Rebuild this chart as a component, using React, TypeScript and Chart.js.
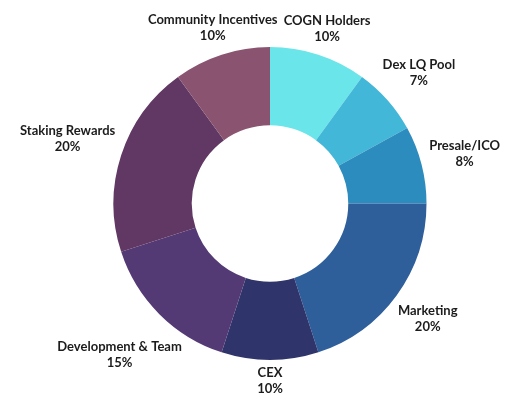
import React, { useEffect, useRef } from "react";
import { Chart, registerables } from "chart.js";

Chart.register(...registerables);

const categories = [
  "COGN Holders",
  "Dex LQ Pool",
  "Presale/ICO",
  "Marketing",
  "CEX",
  "Development & Team",
  "Staking Rewards",
  "Community Incentives",
];
const values = [10, 7, 8, 20, 10, 15, 20, 10];
const colors = [
  "#6AE5E9",
  "#43B7D8",
  "#2D8CBE",
  "#2E5F9B",
  "#2F346B",
  "#533A74",
  "#613764",
  "#8A5471",
];

const FONT = "bold 13px Lato";
const LINE_H = 16;
const CAP_H = 9.5;
const GAP = 7;

function boxDist(cx: number, cy: number, hw: number, hh: number) {
  const nx = Math.max(Math.abs(cx) - hw, 0);
  const ny = Math.max(Math.abs(cy) - hh, 0);
  return Math.sqrt(nx * nx + ny * ny);
}

const labelPlugin = {
  id: "outerLabels",
  afterDraw(chart: any) {
    const ctx = chart.ctx;
    const meta = chart.getDatasetMeta(0);
    const total = values.reduce((a, b) => a + b, 0);
    ctx.save();
    ctx.font = FONT;
    ctx.fillStyle = "#1c1c1c";
    ctx.textAlign = "center";
    ctx.textBaseline = "alphabetic";
    meta.data.forEach((arc: any, i: number) => {
      const { x, y, startAngle, endAngle, outerRadius } = arc.getProps(
        ["x", "y", "startAngle", "endAngle", "outerRadius"],
        true
      );
      const mid = (startAngle + endAngle) / 2;
      const vx = Math.cos(mid);
      const vy = Math.sin(mid);
      const lines = [categories[i], Math.round((values[i] / total) * 100) + "%"];
      const hw = Math.max(...lines.map((l) => ctx.measureText(l).width)) / 2;
      const hh = ((lines.length - 1) * LINE_H + CAP_H) / 2;
      const target = outerRadius + GAP;
      let lo = 0;
      let hi = outerRadius + 400;
      for (let k = 0; k < 60; k++) {
        const t = (lo + hi) / 2;
        if (boxDist(vx * t, vy * t, hw, hh) < target) lo = t;
        else hi = t;
      }
      const cx = x + vx * hi;
      const cy = y + vy * hi;
      const top = cy - hh;
      lines.forEach((l, k) => {
        ctx.fillText(l, cx, top + CAP_H + k * LINE_H);
      });
    });
    ctx.restore();
  },
};

export default function App() {
  const ref = useRef<HTMLCanvasElement>(null);
  useEffect(() => {
    if (!ref.current) return;
    const chart = new Chart(ref.current, {
      type: "doughnut",
      data: {
        labels: categories,
        datasets: [
          {
            data: values,
            backgroundColor: colors,
            borderWidth: 0,
          },
        ],
      },
      options: {
        responsive: false,
        animation: false,
        cutout: "50%",
        layout: { padding: { left: 113, right: 91, top: 47, bottom: 47 } },
        plugins: {
          legend: { display: false },
          tooltip: { enabled: false },
        },
      },
      plugins: [labelPlugin],
    });
    return () => chart.destroy();
  }, []);
  return (
    <div style={{ position: "absolute", left: 0, top: 0, width: 518, height: 407, background: "#fff" }}>
      <canvas ref={ref} width={518} height={407} />
    </div>
  );
}
